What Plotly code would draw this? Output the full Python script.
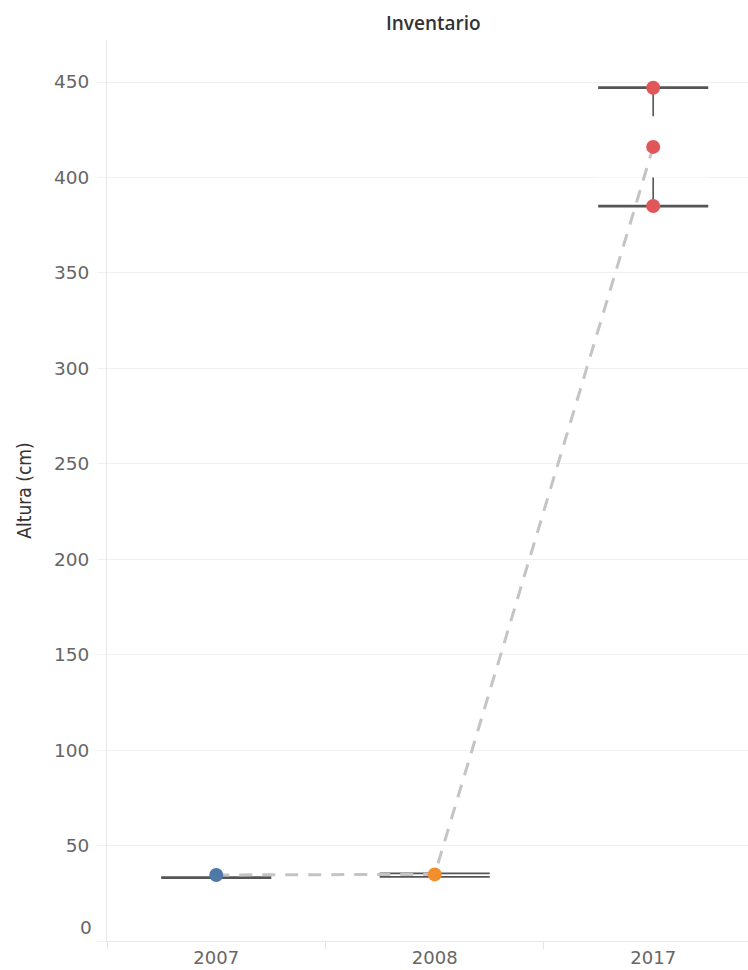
import plotly.graph_objects as go

# Inventory heights by survey year
years = ["2007", "2008", "2017"]
point_colors = ["#4e79a7", "#f28e2b", "#e15759"]
heights = [
    [34.6],
    [34.9],
    [447.0, 416.0, 385.0],
]
whisker_low = [33.2, 33.6, 385.0]
whisker_high = [33.2, 35.4, 447.0]
q1 = [33.2, 33.6, 400.0]
q3 = [33.2, 35.4, 432.0]

y_ticks = [0, 50, 100, 150, 200, 250, 300, 350, 400, 450]

CAP_HALF = 0.252
BOX_HALF = 0.252
DARK = "#555555"
TICK_FONT = dict(family="DejaVu Sans", size=18.5, color="#666666")

fig = go.Figure()

# white boxes (no border) between the quartiles
for i, (lo, hi) in enumerate(zip(q1, q3)):
    if hi > lo:
        fig.add_trace(go.Scatter(
            x=[i - BOX_HALF, i + BOX_HALF, i + BOX_HALF, i - BOX_HALF, i - BOX_HALF],
            y=[lo, lo, hi, hi, lo],
            mode="lines", fill="toself", fillcolor="white",
            line=dict(width=0, color="white"), hoverinfo="skip", showlegend=False,
        ))

# whisker stems and caps
for i in range(len(years)):
    if q3[i] < whisker_high[i]:
        fig.add_trace(go.Scatter(x=[i, i], y=[q3[i], whisker_high[i]], mode="lines",
                                 line=dict(color=DARK, width=1.6), hoverinfo="skip", showlegend=False))
    if whisker_low[i] < q1[i]:
        fig.add_trace(go.Scatter(x=[i, i], y=[whisker_low[i], q1[i]], mode="lines",
                                 line=dict(color=DARK, width=1.6), hoverinfo="skip", showlegend=False))
    caps = sorted(set([whisker_low[i], whisker_high[i]]))
    cap_width = 2.8 if len(caps) == 1 or whisker_high[i] - whisker_low[i] > 5 else 1.8
    for v in caps:
        fig.add_trace(go.Scatter(x=[i - CAP_HALF, i + CAP_HALF], y=[v, v], mode="lines",
                                 line=dict(color=DARK, width=cap_width), hoverinfo="skip", showlegend=False))

# dashed line through the yearly means
means = [sum(h) / len(h) for h in heights]
fig.add_trace(go.Scatter(x=list(range(len(years))), y=means, mode="lines",
                         line=dict(color="#c4c4c4", width=3, dash="13px,10px"),
                         hoverinfo="skip", showlegend=False))

# individual measurements
for i, h in enumerate(heights):
    fig.add_trace(go.Scatter(x=[i] * len(h), y=h, mode="markers",
                             marker=dict(color=point_colors[i], size=14, line=dict(width=0)),
                             name=years[i], showlegend=False))

fig.update_layout(
    width=748, height=970, autosize=False,
    margin=dict(l=107, r=0, t=40, b=29),
    paper_bgcolor="white", plot_bgcolor="white",
    font=dict(family="DejaVu Sans", color="#666666"),
    title=dict(text="Inventario", x=0.509, xanchor="center", y=1 - 23 / 970, yanchor="middle",
               xref="paper", yref="container", automargin=False,
               font=dict(family="Open Sans", size=19, color="#333333", weight=600)),
    xaxis=dict(
        range=[-0.5, 2.434], tickmode="array", tickvals=list(range(len(years))), ticktext=years,
        showgrid=False, zeroline=False, showline=True, linecolor="#e8e8e8", linewidth=1,
        ticks="", tickfont=dict(family="DejaVu Sans", size=18, color="#666666"),
        ticklabelstandoff=0, automargin=False,
        minor=dict(tickmode="array", tickvals=[-0.5, 0.5, 1.5], ticks="outside",
                   ticklen=7, tickcolor="#e2e2e2", tickwidth=1, showgrid=False),
        fixedrange=True,
    ),
    yaxis=dict(
        range=[0, 472], tickmode="array", tickvals=y_ticks,
        ticktext=["" if v == 0 else str(v) for v in y_ticks],
        showgrid=True, gridcolor="#f0f0f0", gridwidth=1,
        zeroline=False, showline=True, linecolor="#e8e8e8", linewidth=1,
        ticks="outside", ticklen=9, tickcolor="#f0f0f0",
        tickfont=TICK_FONT, ticklabelstandoff=4, automargin=False,
        title=dict(text="Altura (cm)",
                   font=dict(family="DejaVu Sans Condensed, Roboto", size=19, color="#333333"),
                   standoff=17),
        fixedrange=True,
    ),
)

# the zero label sits just above the baseline
fig.add_annotation(x=0, xref="paper", xanchor="right", xshift=-13,
                   y=0, yref="y", yanchor="middle", yshift=14,
                   text="0", showarrow=False, font=TICK_FONT)

fig.write_html("out.html")
